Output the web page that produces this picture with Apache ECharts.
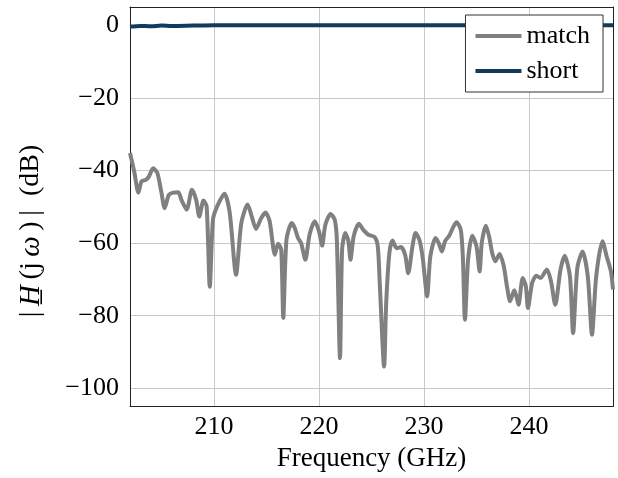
<!DOCTYPE html>
<html>
<head>
<meta charset="utf-8">
<script src="https://cdn.jsdelivr.net/npm/echarts@6/dist/echarts.min.js"></script>
<style>
html, body { margin: 0; padding: 0; background: #fff; }
#chart { width: 618px; height: 478px; }
</style>
</head>
<body>
<div id="chart"></div>
<script>
// frequency axis (GHz) for the "match" trace
var matchFreq = [202.0, 202.4, 202.8, 203.1, 203.5, 203.8, 204.2, 204.6, 205.0, 205.3, 205.7, 206.1, 206.6, 206.9, 207.4, 207.9, 208.3, 208.6, 209.0, 209.3,
    209.6, 209.9, 210.3, 211.0, 211.5, 212.1, 212.6, 213.2, 213.6, 214.0, 214.5, 214.9, 215.3, 215.8, 216.1, 216.4, 216.6, 216.9, 217.4, 217.7,
    218.0, 218.3, 218.7, 219.1, 219.6, 220.0, 220.3, 220.6, 221.1, 221.5, 221.7, 222.0, 222.2, 222.5, 222.8, 223.0, 223.3, 223.8, 224.2, 224.7,
    225.3, 225.6, 225.8, 226.2, 226.4, 226.7, 227.0, 227.4, 227.8, 228.2, 228.5, 228.9, 229.2, 229.6, 229.9, 230.3, 230.6, 231.1, 231.4, 231.7,
    232.0, 232.4, 232.8, 233.1, 233.5, 233.7, 233.9, 234.2, 234.6, 235.0, 235.3, 235.5, 235.9, 236.2, 236.5, 236.8, 237.2, 237.6, 237.9, 238.2,
    238.6, 238.8, 239.0, 239.4, 239.7, 239.9, 240.3, 240.7, 241.1, 241.7, 242.1, 242.5, 243.0, 243.4, 243.9, 244.2, 244.6, 245.1, 245.6, 246.0,
    246.4, 247.0, 247.4, 247.8, 248.0];
// |H(jw)| in dB
var matchDb = [-35.2, -40.3, -46.1, -43.0, -42.6, -41.7, -39.4, -40.7, -46.2, -50.4, -46.7, -46.1, -46.0, -48.1, -50.8, -45.3, -48.1, -52.7, -48.3, -49.9,
    -72.0, -53.6, -49.9, -46.4, -51.7, -68.7, -54.5, -49.4, -52.7, -56.1, -53.1, -51.6, -54.0, -63.2, -60.2, -61.8, -80.6, -59.1, -54.5, -55.9,
    -58.6, -60.0, -64.6, -57.7, -54.0, -56.8, -60.7, -55.0, -52.0, -53.6, -59.1, -91.7, -61.8, -57.2, -59.5, -64.6, -58.2, -54.7, -56.3, -57.7,
    -58.3, -60.9, -71.9, -94.0, -76.5, -62.8, -59.3, -61.4, -61.1, -63.2, -68.3, -60.9, -57.2, -59.5, -64.6, -74.7, -63.7, -58.6, -60.0, -62.3,
    -59.5, -58.0, -55.5, -54.3, -56.3, -63.7, -81.1, -64.6, -58.0, -60.9, -67.8, -60.0, -55.2, -58.2, -62.8, -65.0, -63.0, -66.4, -71.9, -76.0,
    -73.0, -74.7, -77.0, -69.6, -71.9, -77.9, -71.0, -69.0, -69.6, -67.3, -70.6, -77.0, -67.3, -63.5, -69.2, -84.8, -66.9, -62.3, -69.2, -85.2,
    -69.2, -59.5, -63.7, -67.8, -72.8];

var shortFreq = [202, 203, 204, 205, 206, 208, 210, 215, 220, 230, 240, 248];
var shortDb = [-0.4, -0.2, -0.3, -0.1, -0.2, -0.1, 0, 0, 0, 0, 0, 0];

var seriesNames = ["match", "short"];

function zip(xs, ys) {
    var out = [];
    for (var i = 0; i < xs.length; i++) {
        out.push([xs[i], ys[i]]);
    }
    return out;
}

var font = "Liberation Serif";
var gridColor = "#c8c8c8";
var frameColor = "#222";
// only a frame line, used for the top and right edges
var frameAxis = {
    axisLine: { show: true, onZero: false, lineStyle: { color: frameColor, width: 1 } },
    axisTick: { show: false },
    axisLabel: { show: false },
    splitLine: { show: false }
};

var chart = echarts.init(document.getElementById("chart"));
var option = {
    animation: false,
    grid: { left: 130, right: 5, top: 7, bottom: 71.5 },
    legend: {
        orient: "vertical",
        right: 15,
        top: 15,
        data: seriesNames,
        icon: "rect",
        itemWidth: 46,
        itemHeight: 4,
        itemGap: 5,
        itemTextGap: 7,
        padding: [6, 13, 6, 10],
        borderColor: "#333",
        borderWidth: 1,
        borderRadius: 0,
        backgroundColor: "#fff",
        textStyle: { fontFamily: font, fontSize: 26, color: "#000", lineHeight: 30 }
    },
    xAxis: [{
        type: "value",
        min: 202,
        max: 248,
        name: "Frequency (GHz)",
        nameLocation: "middle",
        nameGap: 34,
        nameTextStyle: { fontFamily: font, fontSize: 27, color: "#000" },
        axisLine: { show: true, onZero: false, lineStyle: { color: frameColor, width: 1 } },
        axisTick: { show: false },
        axisLabel: {
            fontFamily: font, fontSize: 26, color: "#000", margin: 8,
            showMinLabel: false, showMaxLabel: false
        },
        splitLine: { show: true, lineStyle: { color: gridColor, width: 1 } }
    }, Object.assign({ type: "value", position: "top", min: 202, max: 248 }, frameAxis)],
    yAxis: [{
        type: "value",
        min: -105,
        max: 5,
        axisLine: { show: true, onZero: false, lineStyle: { color: frameColor, width: 1 } },
        axisTick: { show: false },
        axisLabel: {
            fontFamily: font, fontSize: 26, color: "#000", margin: 11,
            showMinLabel: false, showMaxLabel: false,
            formatter: function (v) { return v < 0 ? "\u2212" + Math.abs(v) : String(v); }
        },
        splitLine: { show: true, lineStyle: { color: gridColor, width: 1 } }
    }, Object.assign({ type: "value", position: "right", min: -105, max: 5 }, frameAxis)],
    graphic: [{
        type: "text",
        x: 31,
        y: 231,
        rotation: Math.PI / 2,
        style: {
            text: "|\u2009{i|H\u0332}\u2009(j\u2009{i|\u03c9}\u2009)\u2009|\u2002(dB)",
            x: 0, y: 0,
            align: "center",
            verticalAlign: "middle",
            fontFamily: font,
            fontSize: 28,
            fill: "#000",
            rich: {
                i: { fontFamily: font, fontSize: 29, fontStyle: "italic", color: "#000" }
            }
        }
    }],
    series: [
        {
            name: seriesNames[0], type: "line", data: zip(matchFreq, matchDb),
            showSymbol: false, symbol: "none", smooth: 0.25,
            color: "#808080", lineStyle: { width: 4, color: "#808080" }
        },
        {
            name: seriesNames[1], type: "line", data: zip(shortFreq, shortDb),
            showSymbol: false, symbol: "none", smooth: 0.3,
            color: "#0f3b5e", lineStyle: { width: 4, color: "#0f3b5e" }
        }
    ]
};
chart.setOption(option);
</script>
</body>
</html>
